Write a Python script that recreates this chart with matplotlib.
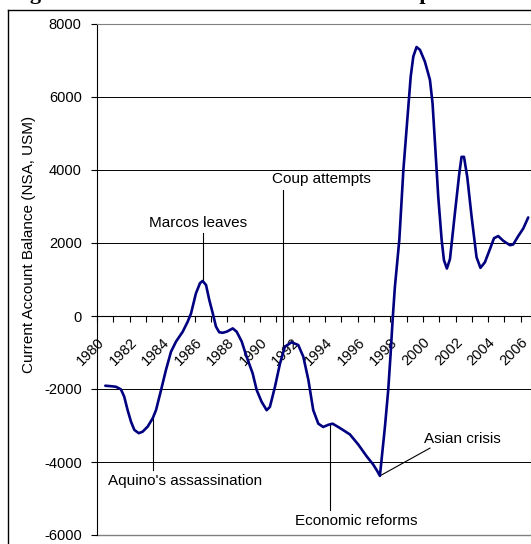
import matplotlib
matplotlib.use("Agg")
import matplotlib.pyplot as plt
from matplotlib.lines import Line2D

plt.rcParams["font.family"] = ["Liberation Sans", "DejaVu Sans"]

# ── data (year, current account balance) ───────────────────────────────────
years = [1980.51, 1980.90, 1981.17, 1981.47, 1981.67, 1981.88, 1982.09, 1982.29,
         1982.56, 1982.80, 1983.11, 1983.42, 1983.62, 1983.93, 1984.23, 1984.54,
         1984.85, 1985.26, 1985.56, 1985.77, 1986.07, 1986.32, 1986.48, 1986.69,
         1986.89, 1987.10, 1987.30, 1987.50, 1987.70, 1987.96, 1988.33, 1988.57,
         1988.88, 1989.18, 1989.55, 1989.80, 1990.10, 1990.41, 1990.61, 1990.92,
         1991.23, 1991.53, 1991.94, 1992.35, 1992.66, 1992.97, 1993.27, 1993.58,
         1993.88, 1994.20, 1994.46, 1994.91, 1995.52, 1996.03, 1996.54, 1996.95,
         1997.20, 1997.36, 1997.67, 1997.87, 1998.02, 1998.14, 1998.28, 1998.55,
         1998.80, 1999.04, 1999.25, 1999.41, 1999.61, 1999.82, 2000.12, 2000.43,
         2000.59, 2000.74, 2000.94, 2001.15, 2001.29, 2001.47, 2001.66, 2001.96,
         2002.23, 2002.37, 2002.52, 2002.72, 2002.99, 2003.29, 2003.53, 2003.80,
         2004.11, 2004.36, 2004.62, 2004.93, 2005.34, 2005.54, 2005.85, 2006.16,
         2006.46]
balance = [-1910, -1925, -1940, -2010, -2210, -2580, -2900, -3120,
           -3210, -3170, -3030, -2800, -2580, -2030, -1480, -980,
           -700, -430, -160, 70, 620, 900, 960, 850,
           440, 80, -290, -445, -460, -430, -340, -430,
           -700, -1115, -1570, -2030, -2350, -2580, -2490, -1940,
           -1300, -840, -720, -795, -1115, -1750, -2580, -2950,
           -3040, -2980, -2950, -3070, -3245, -3520, -3840, -4070,
           -4250, -4380, -3030, -2030, -1020, -110, 800, 2080,
           4000, 5370, 6560, 7110, 7370, 7290, 6970, 6470,
           5830, 4740, 3270, 2080, 1530, 1300, 1560, 2810,
           3900, 4360, 4360, 3810, 2710, 1610, 1320, 1470,
           1830, 2130, 2190, 2060, 1940, 1960, 2190, 2400,
           2700]

tick_years = list(range(1980, 2008))
tick_labels = [str(y) if y % 2 == 0 else "" for y in tick_years]
y_ticks = [-6000, -4000, -2000, 0, 2000, 4000, 6000, 8000]
grid_levels = [-4000, -2000, 2000, 4000, 6000]

W, H = 531, 544
fig = plt.figure(figsize=(W / 100, H / 100), dpi=100, facecolor="white")
ax = fig.add_axes([97 / W, (H - 535) / H, 440 / W, 511 / H])

for v in grid_levels:
    ax.axhline(v, color="black", lw=0.7, zorder=0)
ax.axhline(-6000, color="#808080", lw=1.0, clip_on=False, zorder=0)

ax.plot(years, balance, color="#000080", lw=1.9, solid_joinstyle="round",
        solid_capstyle="round", zorder=3)

ax.set_xlim(1980, 2007)
ax.set_ylim(-6000, 8000)

ax.spines["right"].set_visible(False)
ax.spines["top"].set_color("#808080")
ax.spines["left"].set_linewidth(0.8)
ax.spines["bottom"].set_position(("data", 0))
ax.spines["bottom"].set_linewidth(0.8)

ax.set_xticks(tick_years)
ax.set_xticklabels(tick_labels, rotation=45, ha="right",
                   rotation_mode="anchor", fontsize=10.5)
ax.tick_params(axis="x", direction="out", length=4.5, width=0.8, pad=9)
ax.set_yticks(y_ticks)
ax.set_yticklabels([str(v) for v in y_ticks], fontsize=10.5)
ax.tick_params(axis="y", direction="out", length=4, width=0.8, pad=7)

# ── event markers ──────────────────────────────────────────────────────────
lk = dict(color="black", lw=0.8, zorder=2)
ax.plot([1986.48, 1986.48], [960, 2270], **lk)
ax.text(1986.2, 2550, "Marcos leaves", ha="center", va="center", fontsize=11)

ax.plot([1991.39, 1991.39], [-950, 3450], **lk)
ax.text(1993.8, 3750, "Coup attempts", ha="center", va="center", fontsize=11)

ax.plot([1983.42, 1983.42], [-2800, -4220], **lk)
ax.text(1985.4, -4520, "Aquino's assassination", ha="center", va="center",
        fontsize=11)

ax.plot([1994.29, 1994.29], [-2960, -5320], **lk)
ax.text(1995.9, -5620, "Economic reforms", ha="center", va="center",
        fontsize=11)

ax.plot([1997.36, 2000.43], [-4380, -3620], **lk)
ax.text(2002.4, -3370, "Asian crisis", ha="center", va="center", fontsize=11)

fig.text(29 / W, 1 - 244 / H, "Current Account Balance (NSA, USM)",
         rotation=90, ha="center", va="center", fontsize=11)

# outer frame and the cropped title of the source page (only descenders show)
fig.add_artist(Line2D([8 / W, 8 / W], [0, 1 - 10 / H], color="black", lw=1,
                      transform=fig.transFigure))
fig.add_artist(Line2D([8 / W, 1], [1 - 10 / H, 1 - 10 / H], color="black",
                      lw=1, transform=fig.transFigure))
fig.text(10 / W, 1 + 1 / H,
         "Figure 8: Current Account Balance and Important Events",
         family=["Liberation Serif", "DejaVu Serif"], fontweight="bold",
         fontsize=16, ha="left", va="baseline")

fig.savefig("out.png", dpi=100)
